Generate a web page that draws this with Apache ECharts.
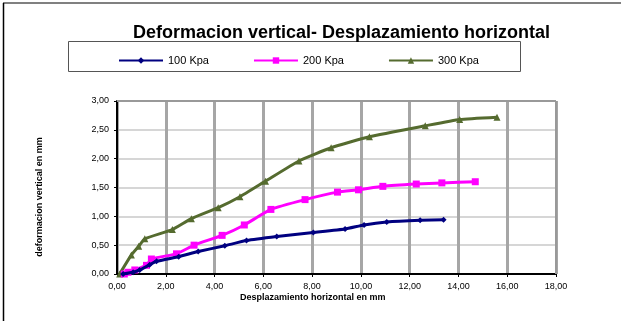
<!DOCTYPE html>
<html>
<head>
<meta charset="utf-8">
<script src="https://cdn.jsdelivr.net/npm/echarts@6/dist/echarts.min.js"></script>
<style>
html,body{margin:0;padding:0;background:#fff;}
#chart{width:621px;height:326px;}
</style>
</head>
<body>
<div id="chart"></div>
<script>
var chartTitle = 'Deformacion vertical- Desplazamiento horizontal';
var xAxisTitle = 'Desplazamiento horizontal en mm';
var yAxisTitle = 'deformacion vertical en mm';
var seriesNames = ['100 Kpa', '200 Kpa', '300 Kpa'];

var x100 = [0.25, 0.66, 0.93, 1.34, 1.62, 2.53, 3.33, 4.42, 5.31, 6.55, 8.05, 9.35, 10.13, 11.06, 12.43, 13.39];
var y100 = [0.00, 0.03, 0.07, 0.16, 0.22, 0.30, 0.39, 0.49, 0.58, 0.65, 0.72, 0.78, 0.85, 0.90, 0.93, 0.94];

var x200 = [0.30, 0.45, 0.73, 1.21, 1.41, 2.44, 3.16, 4.31, 5.22, 6.31, 7.71, 9.04, 9.90, 10.90, 12.27, 13.32, 14.69];
var y200 = [0.00, 0.03, 0.07, 0.15, 0.26, 0.35, 0.50, 0.67, 0.85, 1.12, 1.29, 1.42, 1.46, 1.52, 1.56, 1.58, 1.60];

var x300 = [0.11, 0.59, 0.89, 1.14, 2.27, 3.05, 4.15, 5.04, 6.09, 7.46, 8.78, 10.35, 12.64, 14.05, 15.58];
var y300 = [0.00, 0.33, 0.48, 0.61, 0.77, 0.96, 1.15, 1.34, 1.61, 1.96, 2.19, 2.38, 2.57, 2.68, 2.72];

function pairs(xs, ys) { return xs.map(function (x, i) { return [x, ys[i]]; }); }
function fmt(v) { return v.toFixed(2).replace('.', ','); }

var FONT = 'Liberation Sans, Arial, sans-serif';
var chart = echarts.init(document.getElementById('chart'), null, {renderer: 'canvas'});
var option = {
  backgroundColor: '#ffffff',
  animation: false,
  title: {
    text: chartTitle,
    left: 128, top: 19,
    textStyle: {fontFamily: FONT, fontSize: 18, fontWeight: 'bold', color: '#000'}
  },
  legend: {
    left: 113, top: 50,
    itemWidth: 44, itemHeight: 8, itemGap: 44,
    textStyle: {fontFamily: FONT, fontSize: 11, color: '#000'},
    data: seriesNames
  },
  grid: {left: 117, right: 65, top: 101, bottom: 52},
  xAxis: {
    type: 'value', min: 0, max: 18, interval: 2,
    axisLine: {show: true, lineStyle: {color: '#000', width: 2}},
    axisTick: {show: true, length: 3, lineStyle: {color: '#000', width: 1}},
    axisLabel: {formatter: fmt, fontFamily: FONT, fontSize: 9, color: '#000', margin: 8},
    splitLine: {show: true, lineStyle: {color: '#a6a6a6', width: 3}}
  },
  yAxis: {
    type: 'value', min: 0, max: 3, interval: 0.5,
    axisLine: {show: true, onZero: false, lineStyle: {color: '#000', width: 2}},
    axisTick: {show: true, length: 3, lineStyle: {color: '#000', width: 1}},
    axisLabel: {formatter: fmt, fontFamily: FONT, fontSize: 9, color: '#000', margin: 8},
    splitLine: {show: true, lineStyle: {color: '#c8c8c8', width: 1.5}}
  },
  graphic: [
    {type: 'line', shape: {x1: 3, y1: 3, x2: 621, y2: 3}, style: {stroke: '#808080', lineWidth: 2}, z: 100},
    {type: 'line', shape: {x1: 3.5, y1: 3, x2: 3.5, y2: 321}, style: {stroke: '#000', lineWidth: 1.5}, z: 100},
    {type: 'rect', shape: {x: 68.5, y: 41.5, width: 452, height: 30}, style: {fill: 'none', stroke: '#555', lineWidth: 1}, z: 0},
    {type: 'line', shape: {x1: 117, y1: 101, x2: 556, y2: 101}, style: {stroke: '#999', lineWidth: 2}, z: 1},
    {type: 'line', shape: {x1: 556, y1: 101, x2: 556, y2: 274}, style: {stroke: '#999', lineWidth: 2}, z: 1},
    {type: 'text', left: 240, top: 293, style: {text: xAxisTitle, font: 'bold 9px ' + FONT, fill: '#000'}},
    {type: 'text', rotation: Math.PI / 2, x: 40, y: 197, style: {text: yAxisTitle, font: 'bold 9px ' + FONT, fill: '#000', textAlign: 'center', textVerticalAlign: 'middle'}}
  ],
  series: [
    {
      name: seriesNames[0], type: 'line', data: pairs(x100, y100), smooth: 0.15,
      symbol: 'diamond', symbolSize: 6,
      lineStyle: {color: '#000080', width: 3}, itemStyle: {color: '#000080'}, z: 4
    },
    {
      name: seriesNames[1], type: 'line', data: pairs(x200, y200), smooth: 0.15,
      symbol: 'rect', symbolSize: 7,
      lineStyle: {color: '#ff00ff', width: 3}, itemStyle: {color: '#ff00ff'}, z: 3
    },
    {
      name: seriesNames[2], type: 'line', data: pairs(x300, y300), smooth: 0.15,
      symbol: 'triangle', symbolSize: 7,
      lineStyle: {color: '#556b2f', width: 3}, itemStyle: {color: '#556b2f'}, z: 2
    }
  ]
};
chart.setOption(option);
</script>
</body>
</html>
